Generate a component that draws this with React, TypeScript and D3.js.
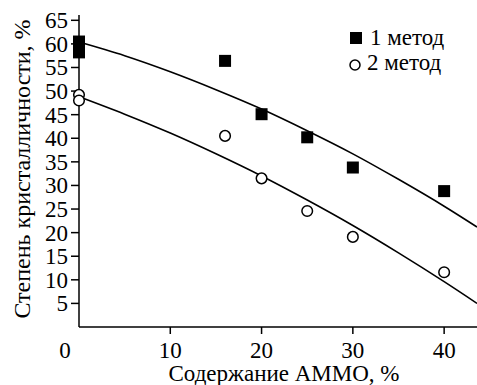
import { useEffect, useRef } from "react";
import * as d3 from "d3";

// measured points, 1 метод (filled squares) and 2 метод (open circles)
const method1X = [0, 0, 16, 20, 25, 30, 40];
const method1Y = [60.5, 58.2, 56.4, 45.1, 40.2, 33.8, 28.8];
const method2X = [0, 0, 16, 20, 25, 30, 40];
const method2Y = [49.2, 48.0, 40.5, 31.5, 24.6, 19.1, 11.6];

// fitted curves
const fitX = [0, 5, 10, 15, 20, 25, 30, 35, 40, 43.6];
const fit1Y = [60.4, 57.5, 54.1, 50.3, 46.2, 41.6, 36.7, 31.3, 25.6, 21.2];
const fit2Y = [48.8, 45.1, 41.1, 36.7, 32.0, 26.9, 21.5, 15.7, 9.6, 5.0];

const xTicks = [10, 20, 30, 40];
const yTicks = [5, 10, 15, 20, 25, 30, 35, 40, 45, 50, 55, 60, 65];
const legendLabels = ["1 метод", "2 метод"];

export default function App() {
  const svgRef = useRef<SVGSVGElement>(null);

  useEffect(() => {
    const width = 477;
    const height = 385;
    const font = "Liberation Serif, Tinos, DejaVu Serif, serif";

    const svg = d3.select(svgRef.current);
    svg.selectAll("*").remove();
    svg.attr("width", width).attr("height", height);

    const x = d3.scaleLinear().domain([0, 43.6]).range([79, 477]);
    const y = d3.scaleLinear().domain([0, 65]).range([327, 20.3]);

    // axes
    svg
      .append("line")
      .attr("x1", x(0))
      .attr("x2", width)
      .attr("y1", y(0))
      .attr("y2", y(0))
      .attr("stroke", "#000")
      .attr("stroke-width", 1.5);
    svg
      .append("line")
      .attr("x1", x(0))
      .attr("x2", x(0))
      .attr("y1", y(0))
      .attr("y2", 15)
      .attr("stroke", "#000")
      .attr("stroke-width", 1.5);

    svg
      .append("g")
      .selectAll("line")
      .data(yTicks)
      .enter()
      .append("line")
      .attr("x1", x(0) - 8)
      .attr("x2", x(0))
      .attr("y1", (d) => y(d))
      .attr("y2", (d) => y(d))
      .attr("stroke", "#000")
      .attr("stroke-width", 1.5);

    svg
      .append("g")
      .selectAll("text")
      .data(yTicks)
      .enter()
      .append("text")
      .attr("x", 68)
      .attr("y", (d) => y(d) + 8)
      .attr("text-anchor", "end")
      .attr("font-family", font)
      .attr("font-size", 23)
      .text((d) => d);

    svg
      .append("g")
      .selectAll("line")
      .data(xTicks)
      .enter()
      .append("line")
      .attr("x1", (d) => x(d))
      .attr("x2", (d) => x(d))
      .attr("y1", y(0))
      .attr("y2", y(0) + 7)
      .attr("stroke", "#000")
      .attr("stroke-width", 1.5);

    svg
      .append("g")
      .selectAll("text")
      .data([0, ...xTicks])
      .enter()
      .append("text")
      .attr("x", (d) => (d === 0 ? 65 : x(d)))
      .attr("y", 358)
      .attr("text-anchor", "middle")
      .attr("font-family", font)
      .attr("font-size", 23)
      .text((d) => d);

    svg
      .append("text")
      .attr("x", 284)
      .attr("y", 381)
      .attr("text-anchor", "middle")
      .attr("font-family", font)
      .attr("font-size", 23)
      .text("Содержание АММО, %");

    svg
      .append("text")
      .attr("transform", "translate(30, 169) rotate(-90)")
      .attr("text-anchor", "middle")
      .attr("font-family", font)
      .attr("font-size", 24)
      .text("Степень кристалличности, %");

    // fit curves
    const line = d3
      .line<number>()
      .x((_, i) => x(fitX[i]))
      .y((d) => y(d))
      .curve(d3.curveMonotoneX);

    [fit1Y, fit2Y].forEach((ys) => {
      svg
        .append("path")
        .attr("d", line(ys))
        .attr("fill", "none")
        .attr("stroke", "#000")
        .attr("stroke-width", 1.6);
    });

    // markers
    svg
      .append("g")
      .selectAll("rect")
      .data(method1Y)
      .enter()
      .append("rect")
      .attr("x", (_, i) => x(method1X[i]) - 6)
      .attr("y", (d) => y(d) - 6)
      .attr("width", 12)
      .attr("height", 12)
      .attr("fill", "#000");

    svg
      .append("g")
      .selectAll("circle")
      .data(method2Y)
      .enter()
      .append("circle")
      .attr("cx", (_, i) => x(method2X[i]))
      .attr("cy", (d) => y(d))
      .attr("r", 5.3)
      .attr("fill", "#fff")
      .attr("stroke", "#000")
      .attr("stroke-width", 1.5);

    // legend
    const legend = svg.append("g");
    legend
      .append("rect")
      .attr("x", 350)
      .attr("y", 32)
      .attr("width", 12)
      .attr("height", 12)
      .attr("fill", "#000");
    legend
      .append("circle")
      .attr("cx", 355)
      .attr("cy", 65)
      .attr("r", 5)
      .attr("fill", "#fff")
      .attr("stroke", "#000")
      .attr("stroke-width", 1.5);
    legend
      .selectAll("text")
      .data(legendLabels)
      .enter()
      .append("text")
      .attr("x", (_, i) => (i === 0 ? 370 : 367))
      .attr("y", (_, i) => (i === 0 ? 45 : 70))
      .attr("font-family", font)
      .attr("font-size", 23)
      .text((d) => d);
  }, []);

  return (
    <div style={{ position: "absolute", left: 0, top: 0 }}>
      <svg ref={svgRef} style={{ display: "block" }}></svg>
    </div>
  );
}
